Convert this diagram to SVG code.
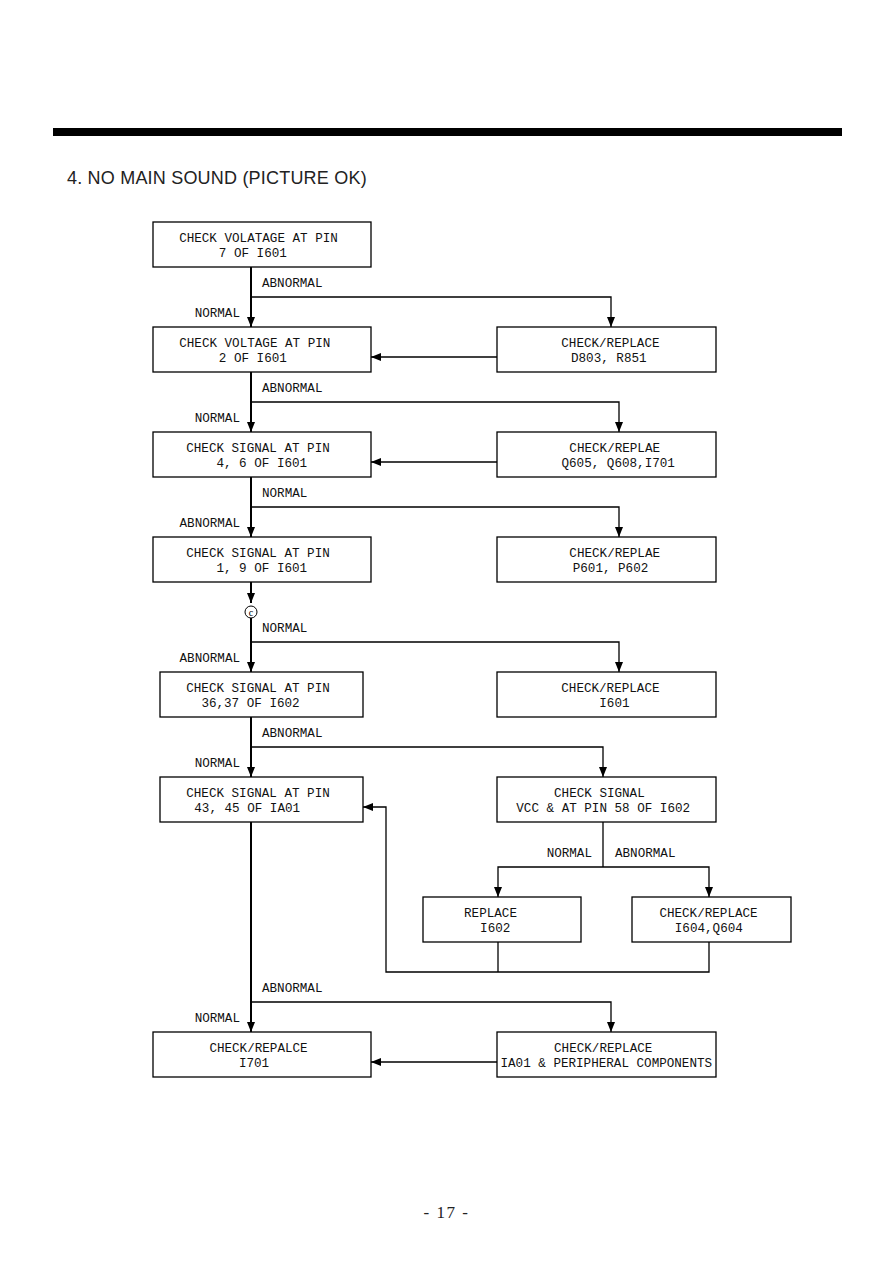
<svg xmlns="http://www.w3.org/2000/svg" width="893" height="1263" viewBox="0 0 893 1263">
<style>
.box{fill:#fff;stroke:#000;stroke-width:1.3}
.t{font-family:"Liberation Mono","DejaVu Sans Mono",monospace;font-size:12.6px;fill:#111;text-anchor:middle}
.lbl{font-family:"Liberation Mono","DejaVu Sans Mono",monospace;font-size:12.6px;fill:#111}
.main{fill:none;stroke:#000;stroke-width:2}
.thin{fill:none;stroke:#000;stroke-width:1.3}
</style>
<defs>
<marker id="ah" markerUnits="userSpaceOnUse" markerWidth="10" markerHeight="10" refX="10" refY="4" orient="auto">
<path d="M0,0 L10,4 L0,8 Z" fill="#000"/>
</marker>
</defs>
<rect x="0" y="0" width="893" height="1263" fill="#fff"/>
<rect x="53" y="128" width="789" height="8" fill="#000"/>
<text x="67" y="184" font-family="Liberation Sans, Arial, sans-serif" font-size="18" fill="#222" letter-spacing="0.2">4. NO MAIN SOUND (PICTURE OK)</text>

<g id="connectors">
<path class="main" d="M251,267 V327" marker-end="url(#ah)"/>
<path class="main" d="M251,372 V432" marker-end="url(#ah)"/>
<path class="main" d="M251,477 V537" marker-end="url(#ah)"/>
<path class="main" d="M251,582 V603" marker-end="url(#ah)"/>
<path class="main" d="M251,618 V672" marker-end="url(#ah)"/>
<path class="main" d="M251,717 V777" marker-end="url(#ah)"/>
<path class="main" d="M251,822 V1032" marker-end="url(#ah)"/>
<path class="thin" d="M251,297 H611 V327" marker-end="url(#ah)"/>
<path class="thin" d="M251,402 H619 V432" marker-end="url(#ah)"/>
<path class="thin" d="M251,507 H619 V537" marker-end="url(#ah)"/>
<path class="thin" d="M251,642 H619 V672" marker-end="url(#ah)"/>
<path class="thin" d="M251,747 H603 V777" marker-end="url(#ah)"/>
<path class="thin" d="M251,1002 H611 V1032" marker-end="url(#ah)"/>
<path class="thin" d="M497,357 H371" marker-end="url(#ah)"/>
<path class="thin" d="M497,462 H371" marker-end="url(#ah)"/>
<path class="thin" d="M497,1062 H371" marker-end="url(#ah)"/>
<path class="thin" d="M603,822 V867"/>
<path class="thin" d="M603,867 H498 V897" marker-end="url(#ah)"/>
<path class="thin" d="M603,867 H709 V897" marker-end="url(#ah)"/>
<path class="thin" d="M498,942 V972"/>
<path class="thin" d="M709,942 V972 H386 V807 H363" marker-end="url(#ah)"/>
<circle cx="251" cy="612" r="6" fill="#fff" stroke="#000" stroke-width="1"/>
<text x="251" y="615.5" font-family="Liberation Serif, serif" font-size="10" text-anchor="middle" fill="#000">c</text>
<text class="lbl" x="262" y="287">ABNORMAL</text>
<text class="lbl" x="240" y="317" text-anchor="end">NORMAL</text>
<text class="lbl" x="262" y="392">ABNORMAL</text>
<text class="lbl" x="240" y="422" text-anchor="end">NORMAL</text>
<text class="lbl" x="262" y="497">NORMAL</text>
<text class="lbl" x="240" y="527" text-anchor="end">ABNORMAL</text>
<text class="lbl" x="262" y="632">NORMAL</text>
<text class="lbl" x="240" y="662" text-anchor="end">ABNORMAL</text>
<text class="lbl" x="262" y="737">ABNORMAL</text>
<text class="lbl" x="240" y="767" text-anchor="end">NORMAL</text>
<text class="lbl" x="592" y="857" text-anchor="end">NORMAL</text>
<text class="lbl" x="615" y="857">ABNORMAL</text>
<text class="lbl" x="262" y="992">ABNORMAL</text>
<text class="lbl" x="240" y="1022" text-anchor="end">NORMAL</text>
</g>

<g id="n1"><rect class="box" x="153" y="222" width="218" height="45"/><text class="t" x="258.5" y="242">CHECK VOLATAGE AT PIN</text><text class="t" x="252.8" y="257">7 OF I601</text></g>
<g id="n2"><rect class="box" x="153" y="327" width="218" height="45"/><text class="t" x="254.8" y="347">CHECK VOLTAGE AT PIN</text><text class="t" x="252.8" y="362">2 OF I601</text></g>
<g id="n2r"><rect class="box" x="497" y="327" width="219" height="45"/><text class="t" x="610.4" y="347">CHECK/REPLACE</text><text class="t" x="608.8" y="362">D803, R851</text></g>
<g id="n3"><rect class="box" x="153" y="432" width="218" height="45"/><text class="t" x="258" y="452">CHECK SIGNAL AT PIN</text><text class="t" x="261.8" y="467">4, 6 OF I601</text></g>
<g id="n3r"><rect class="box" x="497" y="432" width="219" height="45"/><text class="t" x="614.7" y="452">CHECK/REPLAE</text><text class="t" x="618.2" y="467">Q605, Q608,I701</text></g>
<g id="n4"><rect class="box" x="153" y="537" width="218" height="45"/><text class="t" x="258" y="557">CHECK SIGNAL AT PIN</text><text class="t" x="261.8" y="572">1, 9 OF I601</text></g>
<g id="n4r"><rect class="box" x="497" y="537" width="219" height="45"/><text class="t" x="614.7" y="557">CHECK/REPLAE</text><text class="t" x="610.5" y="572">P601, P602</text></g>
<g id="n5"><rect class="box" x="160" y="672" width="203" height="45"/><text class="t" x="258" y="692">CHECK SIGNAL AT PIN</text><text class="t" x="250.5" y="707">36,37 OF I602</text></g>
<g id="n5r"><rect class="box" x="497" y="672" width="219" height="45"/><text class="t" x="610.4" y="692">CHECK/REPLACE</text><text class="t" x="614.4" y="707">I601</text></g>
<g id="n6"><rect class="box" x="160" y="777" width="203" height="45"/><text class="t" x="258" y="797">CHECK SIGNAL AT PIN</text><text class="t" x="247.2" y="812">43, 45 OF IA01</text></g>
<g id="n6r"><rect class="box" x="497" y="777" width="219" height="45"/><text class="t" x="599.4" y="797">CHECK SIGNAL</text><text class="t" x="603.2" y="812">VCC &amp; AT PIN 58 OF I602</text></g>
<g id="n7a"><rect class="box" x="423" y="897" width="158" height="45"/><text class="t" x="490.5" y="917">REPLACE</text><text class="t" x="495.2" y="932">I602</text></g>
<g id="n7b"><rect class="box" x="632" y="897" width="159" height="45"/><text class="t" x="708.5" y="917">CHECK/REPLACE</text><text class="t" x="708.8" y="932">I604,Q604</text></g>
<g id="n8"><rect class="box" x="153" y="1032" width="218" height="45"/><text class="t" x="258.5" y="1052">CHECK/REPALCE</text><text class="t" x="254" y="1067">I701</text></g>
<g id="n8r"><rect class="box" x="497" y="1032" width="219" height="45"/><text class="t" x="603.2" y="1052">CHECK/REPLACE</text><text class="t" x="606.3" y="1067">IA01 &amp; PERIPHERAL COMPONENTS</text></g>

<text x="446.5" y="1218" font-family="Liberation Serif, serif" font-size="17" fill="#222" text-anchor="middle" letter-spacing="1.5">- 17 -</text>
</svg>
